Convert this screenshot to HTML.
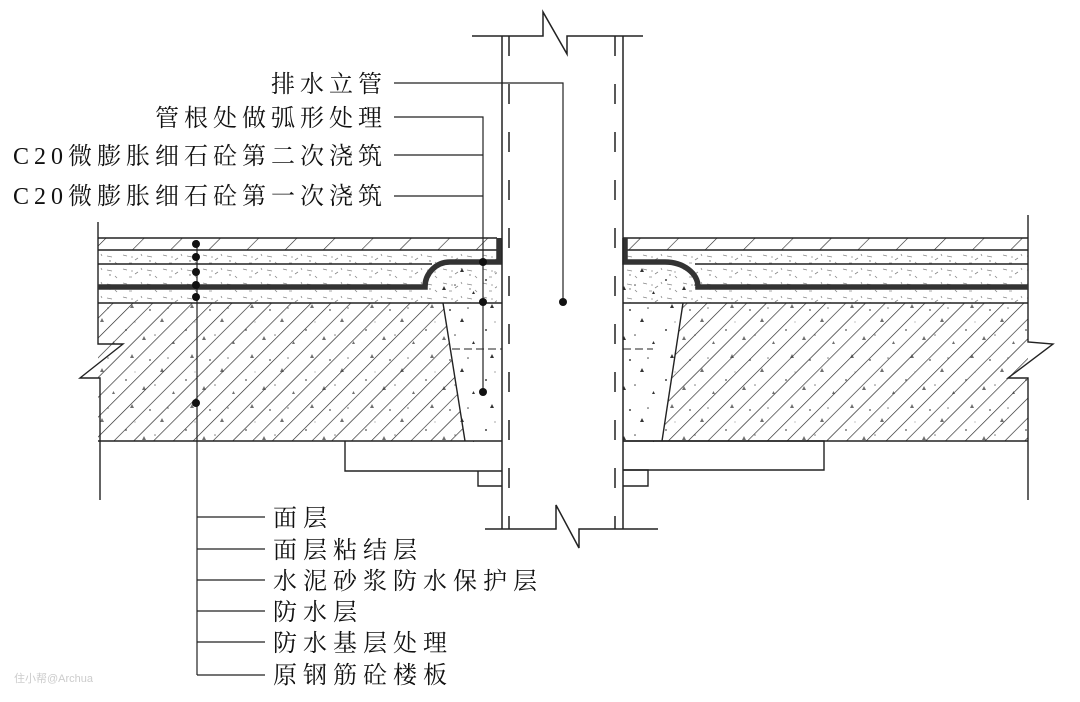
<!DOCTYPE html>
<html><head><meta charset="utf-8"><style>
html,body{margin:0;padding:0;background:#fff;}
svg{display:block}
text{font-family:"Liberation Serif","Noto Serif CJK SC","Noto Sans CJK SC",serif;font-size:24px;fill:#111;}
</style></head><body>
<svg width="1080" height="702" viewBox="0 0 1080 702" xmlns="http://www.w3.org/2000/svg">
<defs>
<pattern id="hatch" patternUnits="userSpaceOnUse" width="14" height="14" patternTransform="rotate(45)">
<line x1="0" y1="0" x2="0" y2="14" stroke="#222" stroke-width="1.3"/>
</pattern>
<pattern id="hatch2" patternUnits="userSpaceOnUse" width="27" height="27" patternTransform="rotate(45)">
<line x1="0" y1="0" x2="0" y2="27" stroke="#222" stroke-width="1.2"/>
</pattern>
<pattern id="speck" patternUnits="userSpaceOnUse" width="40" height="14">
<path d="M3 3l4 1M15 8l3-2M27 4l5 1M35 10l2 2M9 11l3 0M21 2l1 2" stroke="#888" stroke-width="0.8" fill="none"/>
<circle cx="30" cy="9" r="0.7" fill="#666"/><circle cx="12" cy="5" r="0.6" fill="#666"/>
</pattern>
<pattern id="conc" patternUnits="userSpaceOnUse" width="60" height="50">
<path d="M10 8l4 0l-2 -4z M40 22l4 0l-2 -4z M22 40l4 0l-2-4z M52 44l3 0l-1.5-3z" fill="#333"/>
<circle cx="30" cy="10" r="1" fill="#444"/><circle cx="48" cy="8" r="0.8" fill="#444"/><circle cx="6" cy="30" r="1" fill="#444"/><circle cx="35" cy="35" r="0.8" fill="#444"/><circle cx="15" cy="22" r="0.6" fill="#666"/>
</pattern>
</defs>

<!-- LEFT FLOOR -->
<rect x="98" y="238" width="399" height="12" fill="url(#hatch2)"/>
<rect x="98" y="250" width="399" height="53" fill="url(#speck)"/>
<rect x="428" y="262" width="74" height="180" fill="url(#conc)"/>
<polygon points="98,303 443,303 465,441 98,441" fill="#fff"/>
<polygon points="98,303 443,303 465,441 98,441" fill="url(#hatch)"/>
<polygon points="98,303 443,303 465,441 98,441" fill="url(#conc)" opacity="0.7"/>
<g stroke="#222" stroke-width="1.4" fill="none">
<line x1="98" y1="238" x2="497" y2="238"/>
<line x1="98" y1="250" x2="497" y2="250"/>
<line x1="98" y1="264" x2="432" y2="264"/>
<line x1="98" y1="303" x2="502" y2="303"/>
<line x1="443" y1="303" x2="465" y2="441"/>
<line x1="98" y1="441" x2="502" y2="441"/>
<polyline points="98,222 98,344 123,344 80,378 100,378 100,500"/>
<polyline points="345,441 345,471 502,471"/>
<polyline points="478,471 478,486 502,486"/>
<line x1="452" y1="349" x2="502" y2="349" stroke-dasharray="8,4" stroke-width="1"/>
</g>
<path d="M98 287 L425 287 A25 25 0 0 1 450 262 L499 262 L499 238" stroke="#333" stroke-width="5.5" fill="none"/>

<!-- RIGHT FLOOR -->
<rect x="627" y="238" width="401" height="12" fill="url(#hatch2)"/>
<rect x="623" y="250" width="405" height="53" fill="url(#speck)"/>
<rect x="623" y="262" width="75" height="180" fill="url(#conc)"/>
<polygon points="683,303 1028,303 1028,441 662,441" fill="#fff"/>
<polygon points="683,303 1028,303 1028,441 662,441" fill="url(#hatch)"/>
<polygon points="683,303 1028,303 1028,441 662,441" fill="url(#conc)" opacity="0.7"/>
<g stroke="#222" stroke-width="1.4" fill="none">
<line x1="623" y1="238" x2="1028" y2="238"/>
<line x1="627" y1="250" x2="1028" y2="250"/>
<line x1="695" y1="264" x2="1028" y2="264"/>
<line x1="623" y1="303" x2="1028" y2="303"/>
<line x1="683" y1="303" x2="662" y2="441"/>
<line x1="623" y1="441" x2="1028" y2="441"/>
<polyline points="1028,215 1028,342 1053,344 1008,378 1028,378 1028,500"/>
<polyline points="623,441 824,441 824,470 623,470"/>
<polyline points="623,470 648,470 648,486 623,486"/>
<line x1="623" y1="349" x2="653" y2="349" stroke-dasharray="8,4" stroke-width="1"/>
</g>
<path d="M625 238 L625 262 L665 262 A33 25 0 0 1 698 287 L1028 287" stroke="#333" stroke-width="5.5" fill="none"/>

<!-- PIPE -->
<g stroke="#222" stroke-width="1.5" fill="none">
<polyline points="472,36 543,36 543,12 567,54 567,36 643,36"/>
<polyline points="485,529 556,529 556,505 579,548 579,529 658,529"/>
<line x1="502" y1="36" x2="502" y2="529"/>
<line x1="623" y1="36" x2="623" y2="529"/>
<line x1="509" y1="36" x2="509" y2="529" stroke-dasharray="20,28"/>
<line x1="615" y1="36" x2="615" y2="529" stroke-dasharray="20,28"/>
</g>

<!-- LEADERS -->
<g stroke="#222" stroke-width="1.2" fill="none">
<polyline points="394,83 563,83 563,302"/>
<polyline points="394,117 483,117 483,392"/>
<line x1="394" y1="155" x2="483" y2="155"/>
<line x1="394" y1="196" x2="483" y2="196"/>
<line x1="197" y1="240" x2="197" y2="675"/>
<line x1="197" y1="517" x2="265" y2="517"/>
<line x1="197" y1="549" x2="265" y2="549"/>
<line x1="197" y1="580" x2="265" y2="580"/>
<line x1="197" y1="611" x2="265" y2="611"/>
<line x1="197" y1="642" x2="265" y2="642"/>
<line x1="197" y1="675" x2="265" y2="675"/>
</g>
<g fill="#111">
<circle cx="563" cy="302" r="4"/>
<circle cx="483" cy="262" r="4"/><circle cx="483" cy="302" r="4"/><circle cx="483" cy="392" r="4"/>
<circle cx="196" cy="244" r="4"/><circle cx="196" cy="257" r="4"/><circle cx="196" cy="272" r="4"/><circle cx="196" cy="285" r="4"/><circle cx="196" cy="297" r="4"/><circle cx="196" cy="403" r="4"/>
</g>

<g text-anchor="end" letter-spacing="5">
<text x="387" y="92">排水立管</text>
<text x="387" y="126">管根处做弧形处理</text>
<text x="387" y="164">C20微膨胀细石砼第二次浇筑</text>
<text x="387" y="204">C20微膨胀细石砼第一次浇筑</text>
</g>
<g letter-spacing="6">
<text x="273" y="526">面层</text>
<text x="273" y="558">面层粘结层</text>
<text x="273" y="589">水泥砂浆防水保护层</text>
<text x="273" y="620">防水层</text>
<text x="273" y="651">防水基层处理</text>
<text x="273" y="683">原钢筋砼楼板</text>
</g>
<text x="14" y="682" style="font-size:11px;fill:#ccc;font-family:'Liberation Sans','Noto Sans CJK SC',sans-serif">住小帮@Archua</text>
</svg>
</body></html>
